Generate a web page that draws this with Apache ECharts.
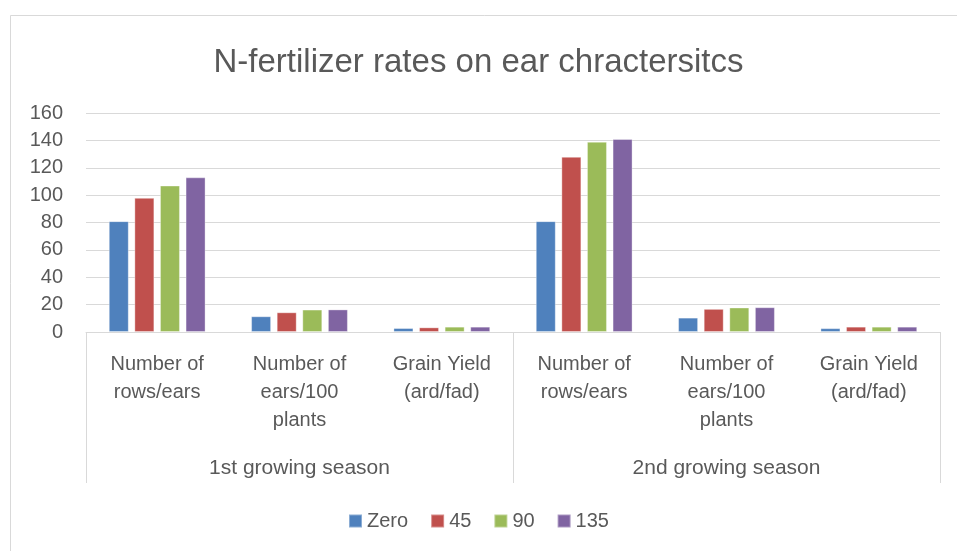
<!DOCTYPE html>
<html>
<head>
<meta charset="utf-8">
<script src="https://cdn.jsdelivr.net/npm/echarts@6/dist/echarts.min.js"></script>
<style>html,body{margin:0;padding:0;background:#fff}#c{width:957px;height:551px}</style>
</head>
<body>
<div id="c"></div>
<script>
const categories = ["Number of\nrows/ears", "Number of\nears/100\nplants", "Grain Yield\n(ard/fad)",
                    "Number of\nrows/ears", "Number of\nears/100\nplants", "Grain Yield\n(ard/fad)"];
const groups = ["1st growing season", "2nd growing season"];
const seriesNames = ["Zero", "45", "90", "135"];
const zero = [81, 11.5, 2.9, 81, 10.5, 2.8];
const n45 = [98, 14.4, 3.4, 128, 16.9, 3.9];
const n90 = [107, 16.4, 3.9, 139, 17.9, 3.9];
const n135 = [113, 16.5, 3.9, 141, 18.1, 3.9];
const colors = ["#4F81BD", "#C0504D", "#9BBB59", "#8064A2"];
const yTicks = [0, 20, 40, 60, 80, 100, 120, 140, 160];

const FONT = "Liberation Sans";
const TXT = "#595959";
const GRID = "#d9d9d9";
const values = [zero, n45, n90, n135];

const chart = echarts.init(document.getElementById('c'), null, {renderer: 'canvas'});
chart.setOption({
  backgroundColor: '#fff',
  animation: false,
  textStyle: {fontFamily: FONT},
  graphic: [{
    type: 'rect', left: 10, top: 15, z: -10,
    shape: {width: 1000, height: 600},
    style: {fill: '#fff', stroke: GRID, lineWidth: 1}
  }],
  title: {
    text: "N-fertilizer rates on ear chractersitcs",
    left: 'center', top: 41,
    textStyle: {fontFamily: FONT, fontSize: 33, fontWeight: 'normal', color: TXT}
  },
  legend: {
    data: seriesNames, bottom: 15, left: 'center',
    icon: 'rect', itemWidth: 13, itemHeight: 13, itemGap: 22,
    textStyle: {fontFamily: FONT, fontSize: 20, color: TXT}
  },
  grid: {left: 86, right: 17, top: 113, bottom: 219, containLabel: false},
  xAxis: [{
    type: 'category', data: categories, position: 'bottom',
    axisLine: {show: true, lineStyle: {color: GRID, width: 1}},
    axisTick: {show: false},
    axisLabel: {interval: 0, color: TXT, fontSize: 20, lineHeight: 28, margin: 18, fontFamily: FONT, verticalAlign: 'top'}
  }, {
    type: 'category', data: groups, position: 'bottom',
    axisLine: {show: false},
    axisTick: {show: true, length: 151, interval: 0, lineStyle: {color: GRID, width: 1}},
    axisLabel: {interval: 0, color: TXT, fontSize: 21, margin: 126, fontFamily: FONT}
  }],
  yAxis: {
    type: 'value', min: 0, max: 160, interval: 20,
    axisLine: {show: false}, axisTick: {show: false},
    splitLine: {lineStyle: {color: GRID, width: 1}},
    axisLabel: {color: TXT, fontSize: 20, margin: 23, fontFamily: FONT,
      formatter: v => yTicks.includes(v) ? String(v) : ''}
  },
  series: seriesNames.map((n, i) => ({
    name: n, type: 'bar', xAxisIndex: 0, data: values[i],
    barWidth: 20, barGap: '28%',
    itemStyle: {color: colors[i], borderColor: 'rgba(255,255,255,0.35)', borderWidth: 1}
  }))
});
</script>
</body>
</html>
